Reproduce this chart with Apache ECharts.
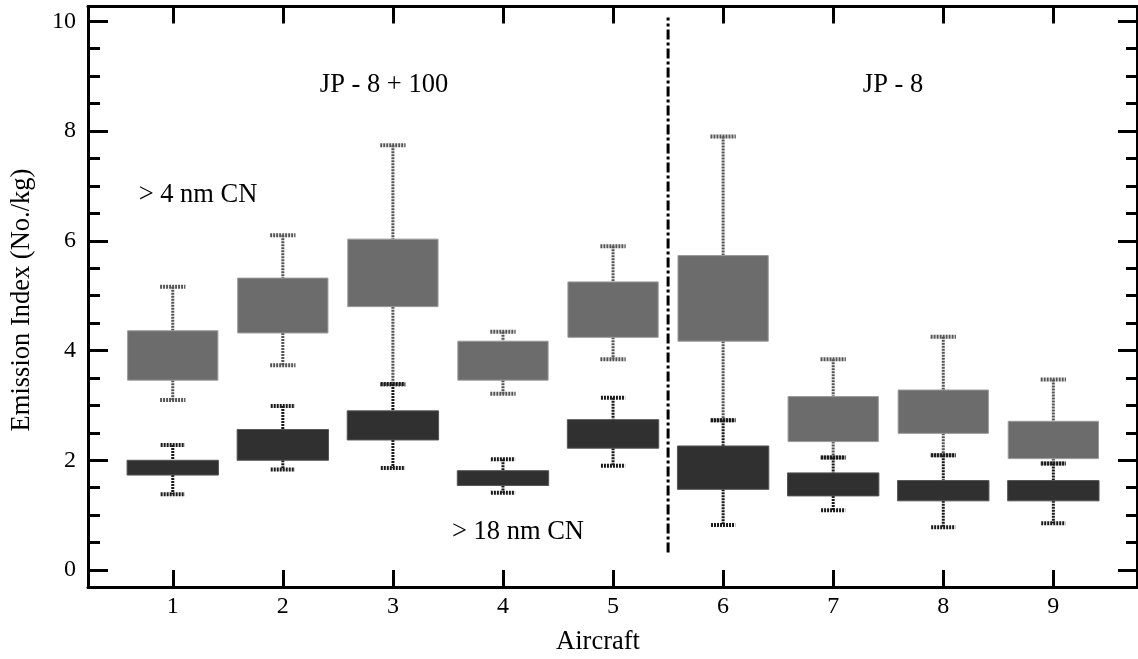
<!DOCTYPE html>
<html>
<head>
<meta charset="utf-8">
<script src="https://cdn.jsdelivr.net/npm/echarts@6/dist/echarts.min.js"></script>
<style>
html,body{margin:0;padding:0;background:#fff;}
#chart{width:1138px;height:659px;}
</style>
</head>
<body>
<div id="chart"></div>
<script>
// ---- data ----
const aircraft = [1, 2, 3, 4, 5, 6, 7, 8, 9];
const xTickLabels = ['1', '2', '3', '4', '5', '6', '7', '8', '9'];
const yTickValues = [0, 2, 4, 6, 8, 10];
const yMinorValues = [0.5, 1, 1.5, 2.5, 3, 3.5, 4.5, 5, 5.5, 6.5, 7, 7.5, 8.5, 9, 9.5];

// > 4 nm CN
const cn4Min = [3.10, 3.73, 3.38, 3.21, 3.84, 2.73, 2.05, 2.09, 1.94];
const cn4Q1  = [3.46, 4.32, 4.80, 3.46, 4.24, 4.17, 2.34, 2.49, 2.03];
const cn4Q3  = [4.36, 5.32, 6.03, 4.17, 5.25, 5.73, 3.16, 3.28, 2.71];
const cn4Max = [5.16, 6.10, 7.74, 4.34, 5.90, 7.90, 3.84, 4.25, 3.47];

// > 18 nm CN
const cn18Min = [1.38, 1.83, 1.86, 1.41, 1.90, 0.82, 1.09, 0.78, 0.85];
const cn18Q1  = [1.73, 2.00, 2.37, 1.54, 2.22, 1.47, 1.35, 1.26, 1.26];
const cn18Q3  = [2.00, 2.56, 2.90, 1.81, 2.74, 2.26, 1.77, 1.63, 1.63];
const cn18Max = [2.28, 2.99, 3.39, 2.02, 3.14, 2.73, 2.05, 2.09, 1.94];

// fuel group divider (between aircraft 5 and 6)
const dividerX = 5.5;
const dividerRange = [0.32, 10.07];

const groupLabels = ['JP - 8 + 100', 'JP - 8'];
const seriesLabels = ['> 4 nm CN', '> 18 nm CN'];

// ---- chart ----
const FONT = 'Liberation Serif';
const chart = echarts.init(document.getElementById('chart'), null, {renderer: 'canvas'});

function boxData(mn, q1, q3, mx) {
  return aircraft.map((a, i) => [a, mn[i], q1[i], q3[i], mx[i]]);
}

function makeRender(fill, border, whiskerColor, boxW, capW) {
  return function (params, api) {
    const x = api.value(0);
    const lo = api.value(1), q1 = api.value(2), q3 = api.value(3), hi = api.value(4);
    const pHi = api.coord([x, hi]);
    const pQ3 = api.coord([x, q3]);
    const pQ1 = api.coord([x, q1]);
    const pLo = api.coord([x, lo]);
    const half = api.size([boxW, 0])[0] / 2;
    const capHalf = api.size([capW, 0])[0] / 2;
    const wStyle = {stroke: whiskerColor, lineWidth: 3, lineDash: [2, 1]};
    const cStyle = {stroke: whiskerColor, lineWidth: 4, lineDash: [2, 1]};
    return {
      type: 'group',
      children: [
        {type: 'line', shape: {x1: pHi[0], y1: pHi[1], x2: pQ3[0], y2: pQ3[1]}, style: wStyle},
        {type: 'line', shape: {x1: pQ1[0], y1: pQ1[1], x2: pLo[0], y2: pLo[1]}, style: wStyle},
        {type: 'line', shape: {x1: pHi[0] - capHalf, y1: pHi[1], x2: pHi[0] + capHalf, y2: pHi[1]}, style: cStyle},
        {type: 'line', shape: {x1: pLo[0] - capHalf, y1: pLo[1], x2: pLo[0] + capHalf, y2: pLo[1]}, style: cStyle},
        {type: 'rect', shape: {x: pQ3[0] - half, y: pQ3[1], width: half * 2, height: pQ1[1] - pQ3[1]},
          style: {fill: fill, stroke: border, lineWidth: 1}}
      ]
    };
  };
}

const xRange = {min: 0.23, max: 9.76};
const yRange = {min: -0.31, max: 10.27};
const lineStyle = {color: '#000', width: 3};

function xAxisCfg(pos, showLabel) {
  return Object.assign({
    type: 'value', position: pos,
    axisLine: {show: true, onZero: false, lineStyle: lineStyle},
    axisTick: {show: true, inside: true, length: 17, lineStyle: {color: '#000', width: 3}, customValues: aircraft},
    axisLabel: showLabel ? {show: true, customValues: aircraft, formatter: (v) => xTickLabels[aircraft.indexOf(v)],
      fontFamily: FONT, fontSize: 24, color: '#000', margin: 8} : {show: false},
    splitLine: {show: false}
  }, xRange);
}

function yAxisCfg(pos, values, len, showLabel, showLine) {
  return Object.assign({
    type: 'value', position: pos,
    axisLine: {show: showLine, onZero: false, lineStyle: lineStyle},
    axisTick: {show: true, inside: true, length: len, lineStyle: {color: '#000', width: 3}, customValues: values},
    axisLabel: showLabel ? {show: true, customValues: values, fontFamily: FONT, fontSize: 24, color: '#000', margin: 12} : {show: false},
    splitLine: {show: false}
  }, yRange);
}

const TXT = '26.5px "' + FONT + '"';
const option = {
  backgroundColor: '#fff',
  animation: false,
  grid: {left: 88, right: 1, top: 6.5, bottom: 72, containLabel: false},
  xAxis: [xAxisCfg('bottom', true), xAxisCfg('top', false)],
  yAxis: [
    yAxisCfg('left', yTickValues, 20, true, true),
    yAxisCfg('right', yTickValues, 19, false, true),
    yAxisCfg('left', yMinorValues, 12, false, false),
    yAxisCfg('right', yMinorValues, 11, false, false)
  ],
  graphic: [
    {type: 'text', x: 384, y: 85, style: {text: groupLabels[0], font: TXT, fill: '#000', align: 'center', verticalAlign: 'middle'}},
    {type: 'text', x: 893, y: 85, style: {text: groupLabels[1], font: TXT, fill: '#000', align: 'center', verticalAlign: 'middle'}},
    {type: 'text', x: 198, y: 195, style: {text: seriesLabels[0], font: TXT, fill: '#000', align: 'center', verticalAlign: 'middle'}},
    {type: 'text', x: 518, y: 532, style: {text: seriesLabels[1], font: TXT, fill: '#000', align: 'center', verticalAlign: 'middle'}},
    {type: 'text', x: 598, y: 642, style: {text: 'Aircraft', font: TXT, fill: '#000', align: 'center', verticalAlign: 'middle'}},
    {type: 'text', x: 22, y: 300, rotation: Math.PI / 2, style: {text: 'Emission Index (No./kg)', font: TXT, fill: '#000', align: 'center', verticalAlign: 'middle'}}
  ],
  series: [
    {
      type: 'custom', name: seriesLabels[0], xAxisIndex: 0, yAxisIndex: 0,
      renderItem: makeRender('#6c6c6c', '#9a9a9a', '#555', 0.82, 0.23),
      encode: {x: 0, y: [1, 2, 3, 4]},
      data: boxData(cn4Min, cn4Q1, cn4Q3, cn4Max), z: 2
    },
    {
      type: 'custom', name: seriesLabels[1], xAxisIndex: 0, yAxisIndex: 0,
      renderItem: makeRender('#303030', '#555', '#1a1a1a', 0.83, 0.22),
      encode: {x: 0, y: [1, 2, 3, 4]},
      data: boxData(cn18Min, cn18Q1, cn18Q3, cn18Max), z: 3
    },
    {
      type: 'line', xAxisIndex: 0, yAxisIndex: 0, symbol: 'none', silent: true,
      data: [[dividerX, dividerRange[0]], [dividerX, dividerRange[1]]],
      lineStyle: {color: '#000', width: 3, type: [10, 3, 3, 3]}, z: 4
    }
  ]
};
chart.setOption(option);
</script>
</body>
</html>
